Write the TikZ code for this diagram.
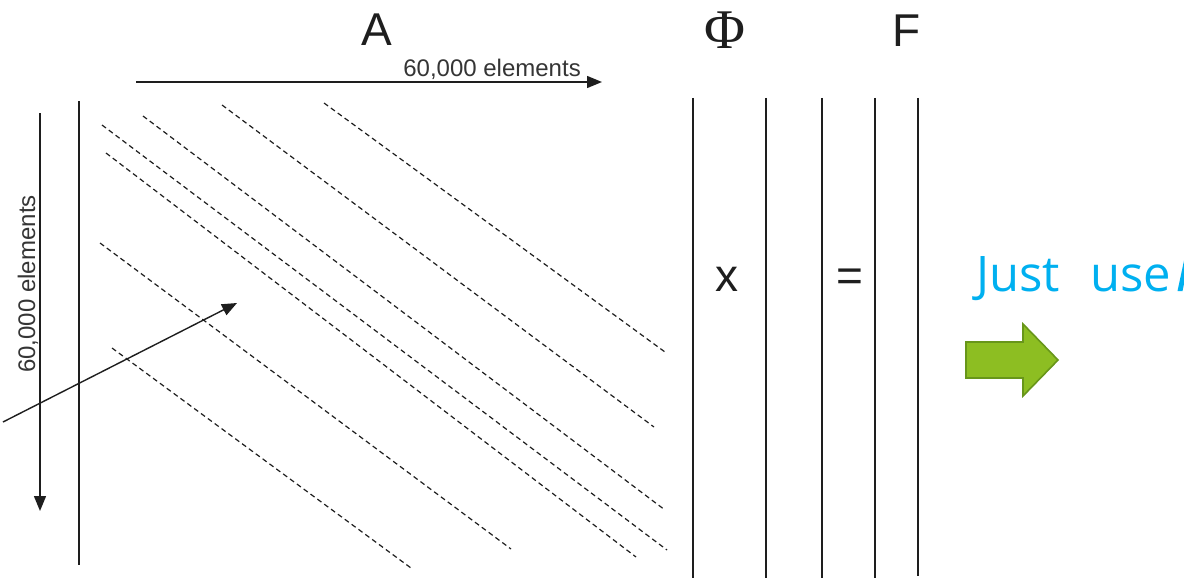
\documentclass[tikz,border=0pt]{standalone}
\usepackage{fontspec}
\setmainfont{Liberation Sans}
\newfontfamily\timesf{Liberation Serif}
\newfontfamily\opensans{Open Sans}
\usetikzlibrary{arrows.meta}
\definecolor{justblue}{RGB}{0,176,240}
\definecolor{arrgreen}{RGB}{141,190,34}
\definecolor{arrgreenb}{RGB}{104,150,26}
\definecolor{ink}{RGB}{30,30,30}
\tikzset{
  matline/.style={draw=ink, line width=1.3pt},
  diag/.style={draw=ink, line width=1.2pt, dash pattern=on 5pt off 3.5pt},
  dimarrow/.style={draw=ink, line width=1.4pt, -{Triangle[length=15pt,width=12pt]}},
  lbl/.style={inner sep=0pt, font=\fontsize{46}{50}\selectfont, text=ink},
  dimlbl/.style={inner sep=0pt, font=\fontsize{24}{27}\selectfont, text=ink!90},
  bluetxt/.style={inner sep=0pt, font=\opensans\fontsize{49}{54}\selectfont, text=justblue}
}
\begin{document}
\begin{tikzpicture}[x=1pt,y=-1pt]
\useasboundingbox (0,0) rectangle (1184,578);
\clip (0,0) rectangle (1184,578);
\fill[white] (0,0) rectangle (1184,578);

% titles
\node[lbl, anchor=base] (tA) at (377,46) {A};
\node[lbl, anchor=base, font=\timesf\fontsize{56}{60}\selectfont] (tPhi) at (725,49) {Φ};
\node[lbl, anchor=base] (tF) at (907,47) {F};
\node[lbl, anchor=base] (tx) at (727,291) {x};
\node[lbl, anchor=base] (teq) at (850,291) {=};

% matrix A left edge and vector lines
\coordinate (aT) at (79,101);
\coordinate (aB) at (79,565);
\draw[matline] (aT) -- (aB);
\foreach \n/\xx/\yb in {p1/693/578, p2/766/578, p3/822/578, f1/875/578, f2/918/576} {
  \coordinate (\n T) at (\xx,98);
  \coordinate (\n B) at (\xx,\yb);
  \draw[matline] (\n T) -- (\n B);
}

% dimension arrows
\coordinate (hS) at (136,82);
\coordinate (hE) at (602,82);
\draw[dimarrow] (hS) -- (hE);
\node[dimlbl, anchor=base east] (hl) at (581,77) {60,000 elements};

\coordinate (vS) at (40,113);
\coordinate (vE) at (40,511);
\draw[dimarrow] (vS) -- (vE);
\node[dimlbl, anchor=base, rotate=90] (vl) at (35,284) {60,000 elements};

% diagonal arrow
\coordinate (dS) at (3,422);
\coordinate (dE) at (237,303);
\draw[dimarrow] (dS) -- (dE);

% dashed diagonals
\foreach \n/\xa/\ya/\xb/\yb in {
  a/324/103/665/352,
  b/222/105/654/427,
  c/143/116/665/510,
  d/102/125/667/550,
  e/106/153/636/557,
  f/100/243/511/549,
  g/112/348/411/568} {
  \coordinate (\n1) at (\xa,\ya);
  \coordinate (\n2) at (\xb,\yb);
  \draw[diag] (\n1) -- (\n2);
}

% blue text
\node[bluetxt, anchor=base west] (just) at (976,291) {Just};
\node[bluetxt, anchor=base west] (use) at (1090,291) {use};
% edge of the next (cut-off) letter
\fill[justblue] (1177.5,291) -- (1182.5,291) -- (1190,256) -- (1185,256) -- cycle;

% green arrow
\draw[fill=arrgreen, draw=arrgreenb, line width=1.6pt, line join=miter]
  (966,342) -- (1023,342) -- (1023,324) -- (1058,360) -- (1023,396) -- (1023,378) -- (966,378) -- cycle;
\end{tikzpicture}
\end{document}
